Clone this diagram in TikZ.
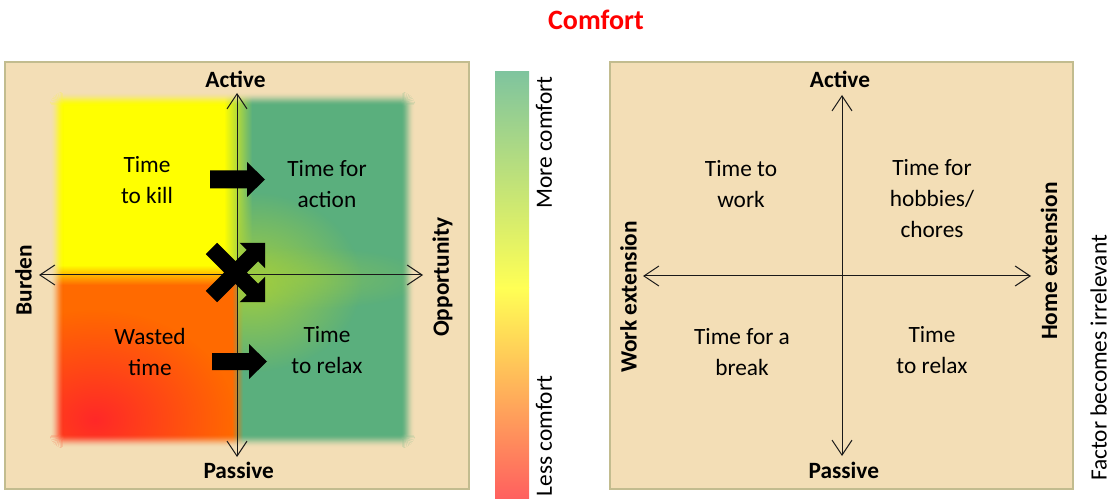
\documentclass[tikz,border=0pt]{standalone}
\usepackage{fontspec}
\setmainfont{Carlito}
\usetikzlibrary{arrows.meta,fadings}
\definecolor{panelbg}{HTML}{F3DEB6}
\definecolor{panelborder}{HTML}{C2BC8F}
\definecolor{qyellow}{HTML}{FFFF00}
\definecolor{qorange}{HTML}{FF6A00}
\definecolor{qred}{HTML}{FF2828}
\definecolor{qgreen}{HTML}{5AAF7D}
\definecolor{qglow}{HTML}{A2CE3E}
\definecolor{cbtop}{HTML}{7FC49E}
\definecolor{cbmid}{HTML}{FFFF55}
\definecolor{cbbot}{HTML}{FF5F5F}
\definecolor{titlered}{HTML}{FF0000}
\tikzfading[name=glowfade, inner color=transparent!0, outer color=transparent!100]
\begin{document}
\begin{tikzpicture}[x=0.75pt,y=-0.75pt,
  txt/.style={font=\fontsize{17.5}{23.25}\selectfont, align=center, inner sep=0pt, text=black},
  lbl/.style={font=\fontsize{17.5}{21}\selectfont\bfseries, inner sep=0pt, text=black},
  side/.style={lbl, rotate=90},
  axisline/.style={line width=0.75pt, draw=black!90, {Straight Barb[length=11.25pt,width=15pt]}-{Straight Barb[length=11.25pt,width=15pt]}},
  panel/.style={fill=panelbg, draw=panelborder, line width=1.5pt},
  blockarrow/.style={fill=black},
]
\useasboundingbox (0,0) rectangle (1115,499);

% panels
\path[panel] (5,62) rectangle (469,489);
\path[panel] (610,62) rectangle (1073,489);

% coloured quadrants (left panel)
\begin{scope}
  \clip (50,92) rectangle (415,448);
  \fill[qyellow] (50,92) rectangle (237,275);
  \fill[qorange] (50,275) rectangle (237,448);
  \fill[qgreen] (237,92) rectangle (415,448);
  \fill[qred, path fading=glowfade] (95,420) ellipse [x radius=140, y radius=110];
  \shade[top color=qyellow, bottom color=qorange] (50,265) rectangle (232,285);
  \shade[left color=qyellow, middle color=qglow, right color=qgreen] (224,92) rectangle (252,266);
  \shade[left color=qorange, right color=qgreen] (232,284) rectangle (243,448);
  \begin{scope}
    \clip (237,92) rectangle (415,448);
    \fill[qglow, path fading=glowfade] (252,282) ellipse [x radius=110, y radius=90];
    \fill[qglow, opacity=0.45, path fading=glowfade] (300,278) ellipse [x radius=130, y radius=32];
  \end{scope}
\end{scope}
% soft (blurred) edge of the coloured area
\fill[panelbg, even odd rule] (46,88) rectangle (419,452)
  [rounded corners=10.5pt] (50,92) rectangle (415,448);
\foreach \i [evaluate=\i as \op using {0.5+0.5*cos(180*(\i+0.5)/14)},
             evaluate=\i as \ra using {(14-\i)*0.75},
             evaluate=\i as \rb using {(13-\i)*0.75}] in {0,...,13}{
  \fill[panelbg, opacity=\op, even odd rule]
    [rounded corners=\ra pt] (50+\i,92+\i) rectangle (415-\i,448-\i)
    [rounded corners=\rb pt] (51+\i,93+\i) rectangle (414-\i,447-\i);
}

% colour bar
\shade[top color=cbtop, bottom color=cbmid] (495,72) rectangle (529,288);
\shade[top color=cbmid, bottom color=cbbot] (495,288) rectangle (529,499.5);

% axes left
\coordinate (LN) at (237,93);
\coordinate (LS) at (237,457);
\coordinate (LW) at (39,275);
\coordinate (LE) at (423,275);
\draw[axisline] (LS) -- (LN);
\draw[axisline] (LW) -- (LE);

% axes right
\coordinate (RN) at (842,95);
\coordinate (RS) at (842,456);
\coordinate (RW) at (643,276);
\coordinate (RE) at (1031,276);
\draw[axisline] (RS) -- (RN);
\draw[axisline] (RW) -- (RE);

% block arrows
\fill[blockarrow] (210,170.5) -- (247,170.5) -- (247,162) -- (265,179.5) -- (247,197) -- (247,188.5) -- (210,188.5) -- cycle;
\fill[blockarrow] (212,353) -- (249,353) -- (249,344) -- (267,361.5) -- (249,379) -- (249,370) -- (212,370) -- cycle;

% cross with two arrow heads
\begin{scope}[shift={(235.5,272.5)}, rotate=45]
  \fill[blockarrow] (-34,-8) -- (24,-8) -- (24,-18) -- (42,0) -- (24,18) -- (24,8) -- (-34,8) -- cycle;
\end{scope}
\begin{scope}[shift={(235.5,272.5)}, rotate=-45]
  \fill[blockarrow] (-34,-8) -- (24,-8) -- (24,-18) -- (42,0) -- (24,18) -- (24,8) -- (-34,8) -- cycle;
\end{scope}

% quadrant texts left
\node[txt] (tkill) at (147,180) {Time\\to kill};
\node[txt] (taction) at (327,184) {Time for\\action};
\node[txt] (wasted) at (150,352) {Wasted\\time};
\node[txt] (relaxL) at (327,350.5) {Time\\to relax};

% quadrant texts right
\node[txt] (twork) at (741,184) {Time to\\work};
\node[txt] (hobbies) at (932,199) {Time for\\hobbies/\\chores};
\node[txt] (tbreak) at (742,352) {Time for a\\break};
\node[txt] (relaxR) at (932,350.5) {Time\\to relax};

% axis labels
\node[lbl] (actL) at (235.5,79) {Active};
\node[lbl] (pasL) at (238.7,470.5) {Passive};
\node[side] (burden) at (23.5,280) {Burden};
\node[side] (opp) at (442.5,277) {Opportunity};
\node[lbl] (actR) at (840,79) {Active};
\node[lbl] (pasR) at (843.8,470.5) {Passive};
\node[side] (work) at (628.5,297) {Work extension};
\node[side] (home) at (1049,261) {Home extension};

% colour bar labels and side note
\node[txt, rotate=90] (more) at (544,142.5) {More comfort};
\node[txt, rotate=90] (less) at (544,436) {Less comfort};
\node[txt, rotate=90] (factor) at (1098.5,358) {Factor becomes irrelevant};

% title
\node[font=\fontsize{21}{25}\selectfont\bfseries, text=titlered, inner sep=0pt] (title) at (596,20) {Comfort};
\end{tikzpicture}
\end{document}
